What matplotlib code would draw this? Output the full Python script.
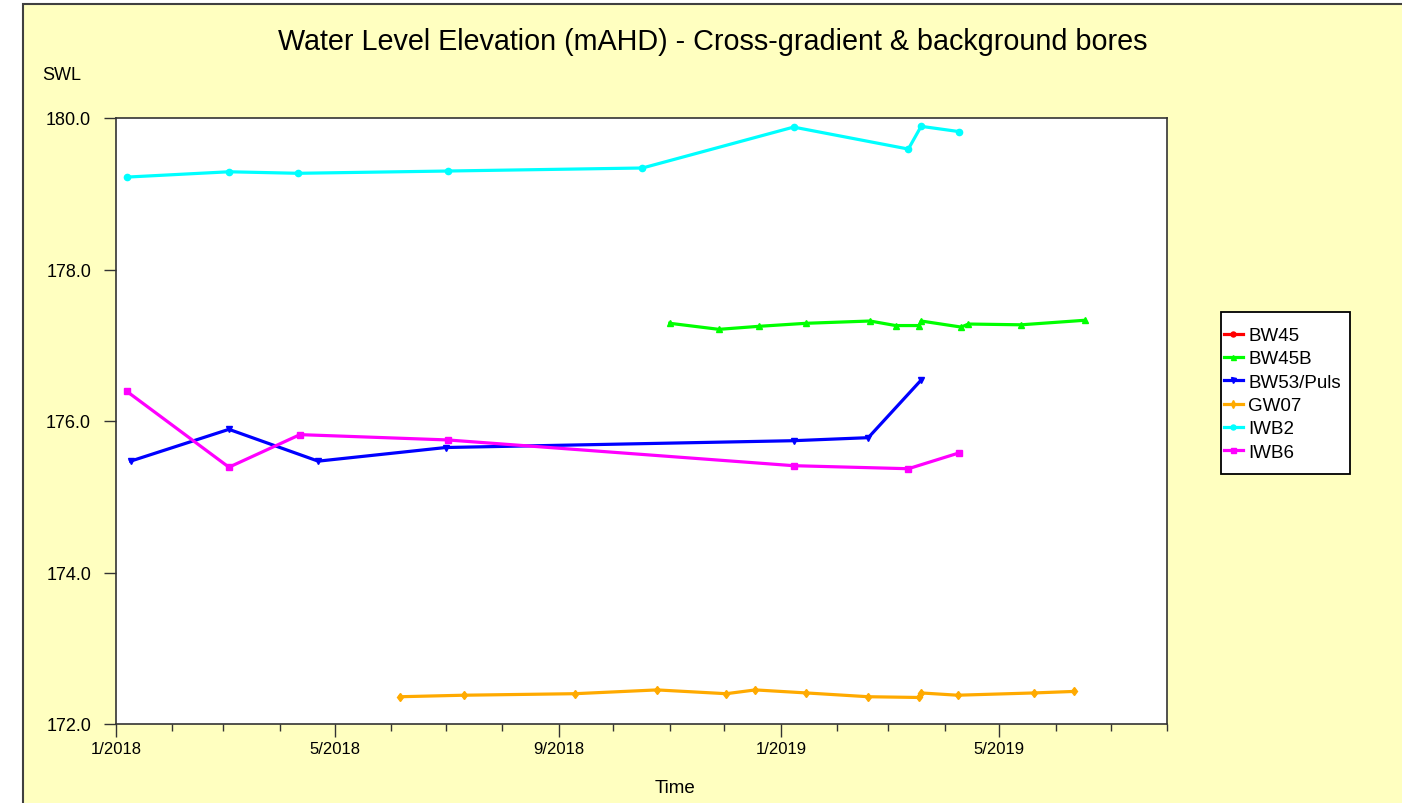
import datetime as dt
import matplotlib
matplotlib.use('Agg')
import matplotlib.pyplot as plt
import matplotlib.dates as mdates
from matplotlib.patches import Rectangle
from matplotlib.ticker import FuncFormatter, MultipleLocator

plt.rcParams['font.family'] = ['Liberation Sans', 'DejaVu Sans']

# series data
bw45_dates = []
bw45_vals = []

bw45b_dates = ['2018-11-01', '2018-11-28', '2018-12-20', '2019-01-15', '2019-02-19', '2019-03-05',
               '2019-03-18', '2019-03-19', '2019-04-10', '2019-04-14', '2019-05-13', '2019-06-17']
bw45b_vals = [177.29, 177.21, 177.25, 177.29, 177.32, 177.26,
              177.26, 177.32, 177.24, 177.28, 177.27, 177.33]

bw53_dates = ['2018-01-09', '2018-03-04', '2018-04-22', '2018-07-01', '2019-01-08', '2019-02-18', '2019-03-19']
bw53_vals = [175.47, 175.89, 175.47, 175.65, 175.74, 175.78, 176.54]

gw07_dates = ['2018-06-06', '2018-07-11', '2018-09-10', '2018-10-25', '2018-12-02', '2018-12-18', '2019-01-15',
              '2019-02-18', '2019-03-18', '2019-03-19', '2019-04-08', '2019-05-20', '2019-06-11']
gw07_vals = [172.36, 172.38, 172.40, 172.45, 172.40, 172.45, 172.41,
             172.36, 172.35, 172.41, 172.38, 172.41, 172.43]

iwb2_dates = ['2018-01-07', '2018-03-04', '2018-04-11', '2018-07-02', '2018-10-17',
              '2019-01-08', '2019-03-12', '2019-03-19', '2019-04-09']
iwb2_vals = [179.22, 179.29, 179.27, 179.30, 179.34, 179.88, 179.59, 179.89, 179.82]

iwb6_dates = ['2018-01-07', '2018-03-04', '2018-04-12', '2018-07-02', '2019-01-08', '2019-03-12', '2019-04-09']
iwb6_vals = [176.39, 175.39, 175.82, 175.75, 175.41, 175.37, 175.58]

series = [
    ('BW45', bw45_dates, bw45_vals, '#FF0000', 'o'),
    ('BW45B', bw45b_dates, bw45b_vals, '#00FF00', '^'),
    ('BW53/Puls', bw53_dates, bw53_vals, '#0000FF', 'v'),
    ('GW07', gw07_dates, gw07_vals, '#FFAA00', 'd'),
    ('IWB2', iwb2_dates, iwb2_vals, '#00FFFF', 'o'),
    ('IWB6', iwb6_dates, iwb6_vals, '#FF00FF', 's'),
]


def to_dt(lst):
    return [dt.datetime.strptime(s, '%Y-%m-%d') for s in lst]


W, H = 1402, 804
fig = plt.figure(figsize=(W / 100, H / 100), dpi=100, facecolor='white')

# yellow panel with border
fig.add_artist(Rectangle((23 / W, -0.1), 1.2, (H - 5) / H + 0.1, transform=fig.transFigure,
                         facecolor='#FFFFC0', edgecolor='#404040', linewidth=1.5, zorder=-10))

ax = fig.add_axes([116 / W, (H - 725) / H, 1051 / W, 606 / H])
ax.set_facecolor('white')

for name, d, v, c, m in series:
    ax.plot(to_dt(d), v, color=c, lw=2.3, marker=m, ms=4.5, mec=c, mfc=c, label=name)

ax.set_xlim(dt.datetime(2018, 1, 1), dt.datetime(2019, 8, 1))
ax.set_ylim(172, 180)
ax.yaxis.set_major_locator(MultipleLocator(2))
ax.yaxis.set_major_formatter(FuncFormatter(lambda y, p: f'{y:.1f}'))
ax.xaxis.set_major_locator(mdates.MonthLocator(bymonth=[1, 5, 9]))
ax.xaxis.set_minor_locator(mdates.MonthLocator())
ax.xaxis.set_major_formatter(FuncFormatter(lambda x, p: f'{mdates.num2date(x).month}/{mdates.num2date(x).year}'))

ax.tick_params(axis='y', which='major', length=9, width=1, labelsize=13, pad=9, color='#333333')
ax.tick_params(axis='x', which='major', length=9, width=1, labelsize=12, pad=3, color='#333333')
ax.tick_params(axis='x', which='minor', length=5, width=1, color='#333333')
for s in ax.spines.values():
    s.set_color('#333333')
    s.set_linewidth(1.2)

fig.text(713 / W, 1 - 42 / H, 'Water Level Elevation (mAHD) - Cross-gradient & background bores',
         ha='center', va='center', fontsize=20.7)
fig.text(42 / W, 1 - 75 / H, 'SWL', ha='left', va='center', fontsize=13)
fig.text(675 / W, 1 - 789 / H, 'Time', ha='center', va='center', fontsize=13.5)

# legend box drawn separately so its padding matches the reference
fig.add_artist(Rectangle((1221 / W, 1 - 475 / H), 129 / W, 162 / H, transform=fig.transFigure,
                         facecolor='white', edgecolor='black', linewidth=1.3, zorder=5))
leg = fig.legend(loc='upper left', bbox_to_anchor=(1224 / W, 1 - 328 / H), fontsize=13.5,
                 frameon=False, handlelength=1.0, handletextpad=0.3, labelspacing=0.33,
                 borderpad=0, borderaxespad=0, markerscale=0.8)
leg.set_zorder(6)

fig.savefig('out.png', dpi=100, facecolor=fig.get_facecolor())
